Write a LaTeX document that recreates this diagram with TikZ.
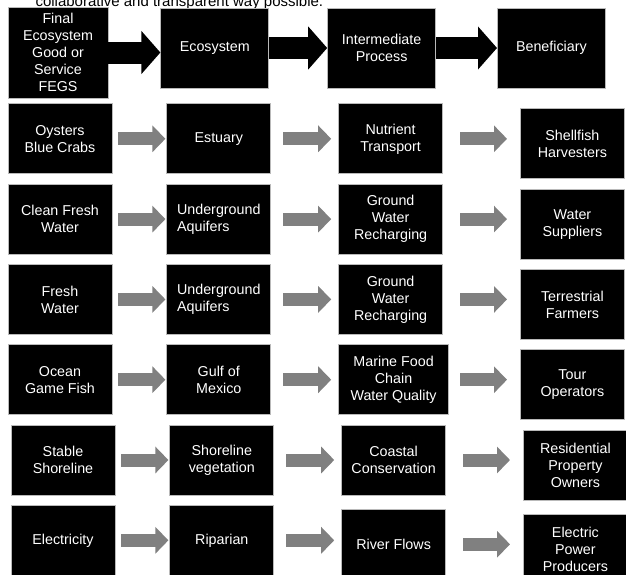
\documentclass[tikz,border=0pt]{standalone}
\usepackage{fontspec}
\setmainfont{Liberation Sans}
\usetikzlibrary{positioning}
\usetikzlibrary{arrows.meta}

\definecolor{arrowgray}{HTML}{808080}

\tikzset{
  box/.style={rectangle,fill=black,draw=gray!55,line width=0.8pt,text=white,align=center,
    minimum width=104pt,minimum height=70pt,inner sep=2pt,font=\fontsize{14.3}{17}\selectfont},
  headbox/.style={box,minimum width=108pt,minimum height=80pt},
  bigarrow/.style={line width=22pt,-{Triangle[width=42pt,length=19pt]}},
  grayarrow/.style={arrowgray,line width=13pt,-{Triangle[width=26pt,length=13pt]}},
  gapa/.style={shorten <=6pt,shorten >=1pt},
  gapb/.style={shorten <=12pt,shorten >=7pt},
  gapc/.style={shorten <=17pt,shorten >=13pt}
}

\begin{document}
\begin{tikzpicture}[x=1pt,y=1pt,node distance=9.5pt]
\useasboundingbox (0,0) rectangle (626,-574);
\clip (0,0) rectangle (626,-574);

\node[anchor=base west,font=\fontsize{15}{18}\selectfont] (intro) at (32,-6) {collaborative and transparent way possible.};

% header row
\node[headbox,minimum width=100pt,minimum height=91pt] (fegs) at (58,-52.5) {Final\\Ecosystem\\Good or\\Service\\FEGS};
\node[headbox,right=52pt of fegs,yshift=4.5pt] (eco) {Ecosystem};
\node[headbox,right=58pt of eco] (proc) {Intermediate\\Process};
\node[headbox,right=61pt of proc] (bene) {Beneficiary};

\draw[bigarrow] (fegs.east) -- (fegs.east -| eco.west);
\draw[bigarrow] (eco.east) -- (eco.east -| proc.west);
\draw[bigarrow] (proc.east) -- (proc.east -| bene.west);

% rows
\node[box,below=5pt of fegs,xshift=2pt] (oyst) {Oysters\\Blue Crabs};
\node[box,right=54pt of oyst] (estu) {Estuary};
\node[box,right=67pt of estu] (nutr) {Nutrient\\Transport};
\node[box,right=77pt of nutr,yshift=-5pt] (shell) {Shellfish\\Harvesters};

\node[box,below=of oyst] (water1) {Clean Fresh\\Water};
\node[box,right=54pt of water1,align=left] (aqui1) {Underground\\Aquifers};
\node[box,right=67pt of aqui1] (rech1) {Ground\\Water\\Recharging};
\node[box,right=77pt of rech1,yshift=-5pt] (supp) {Water\\Suppliers};

\node[box,below=of water1] (water2) {Fresh\\Water};
\node[box,right=54pt of water2,align=left] (aqui2) {Underground\\Aquifers};
\node[box,right=67pt of aqui2] (rech2) {Ground\\Water\\Recharging};
\node[box,right=77pt of rech2,yshift=-5pt] (farm) {Terrestrial\\Farmers};

\node[box,below=of water2] (fish) {Ocean\\Game Fish};
\node[box,right=54pt of fish] (gulf) {Gulf of\\Mexico};
\node[box,right=67pt of gulf,minimum width=110pt] (food) {Marine Food\\Chain\\Water Quality};
\node[box,right=71pt of food,yshift=-5pt] (tour) {Tour\\Operators};

\node[box,below=of fish,xshift=3pt] (shore) {Stable\\Shoreline};
\node[box,right=54pt of shore] (veg) {Shoreline\\vegetation};
\node[box,right=67pt of veg] (coast) {Coastal\\Conservation};
\node[box,right=77pt of coast,yshift=-5pt] (resi) {Residential\\Property\\Owners};

\node[box,below=of shore] (elec) {Electricity};
\node[box,right=54pt of elec] (ripa) {Riparian};
\node[box,right=67pt of ripa,yshift=-4pt] (river) {River Flows};
\node[box,right=77pt of river,yshift=-5pt] (power) {Electric\\Power\\Producers};

\draw[grayarrow,gapa] (oyst.east) -- (oyst.east -| estu.west);
\draw[grayarrow,gapb] (estu.east) -- (estu.east -| nutr.west);
\draw[grayarrow,gapc] (nutr.east) -- (nutr.east -| shell.west);

\draw[grayarrow,gapa] (water1.east) -- (water1.east -| aqui1.west);
\draw[grayarrow,gapb] (aqui1.east) -- (aqui1.east -| rech1.west);
\draw[grayarrow,gapc] (rech1.east) -- (rech1.east -| supp.west);

\draw[grayarrow,gapa] (water2.east) -- (water2.east -| aqui2.west);
\draw[grayarrow,gapb] (aqui2.east) -- (aqui2.east -| rech2.west);
\draw[grayarrow,gapc] (rech2.east) -- (rech2.east -| farm.west);

\draw[grayarrow,gapa] (fish.east) -- (fish.east -| gulf.west);
\draw[grayarrow,gapb] (gulf.east) -- (gulf.east -| food.west);
\draw[grayarrow,gapc,shorten <=11pt] (food.east) -- (food.east -| tour.west);

\draw[grayarrow,gapa] (shore.east) -- (shore.east -| veg.west);
\draw[grayarrow,gapb] (veg.east) -- (veg.east -| coast.west);
\draw[grayarrow,gapc] (coast.east) -- (coast.east -| resi.west);

\draw[grayarrow,gapa] (elec.east) -- (elec.east -| ripa.west);
\draw[grayarrow,gapb] (ripa.east) -- (ripa.east -| river.west);
\draw[grayarrow,gapc] (river.east) -- (river.east -| power.west);

\end{tikzpicture}
\end{document}
